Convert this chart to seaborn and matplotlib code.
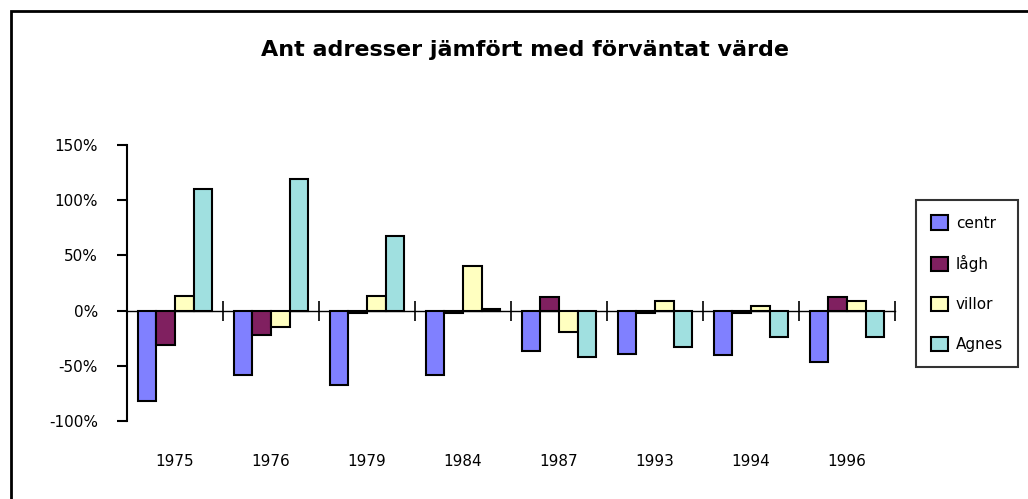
import numpy as np
import pandas as pd
import matplotlib
matplotlib.use("Agg")
import matplotlib.pyplot as plt
import seaborn as sns
from matplotlib.ticker import PercentFormatter, MultipleLocator
from matplotlib.patches import Rectangle

# data (percent vs expected value)
years = ["1975", "1976", "1979", "1984", "1987", "1993", "1994", "1996"]
centr = [-82, -58, -67, -58, -37, -39, -40, -47]
lagh = [-31, -22, -2, -2, 12, -2, -2, 12]
villor = [13, -15, 13, 40, -19, 9, 4, 9]
agnes = [110, 119, 68, 1, -42, -33, -24, -24]
series = ["centr", "lågh", "villor", "Agnes"]
colors = ["#8080FF", "#802060", "#FFFFC0", "#A0E0E0"]

df = pd.DataFrame({"year": years * 4,
                   "serie": np.repeat(series, len(years)),
                   "value": centr + lagh + villor + agnes})

sns.set_style("white")
plt.rcParams["font.family"] = ["DejaVu Sans"]
plt.rcParams["axes.unicode_minus"] = False
plt.rcParams["text.color"] = "black"
plt.rcParams["xtick.color"] = "black"
plt.rcParams["ytick.color"] = "black"

fig = plt.figure(figsize=(10.28, 4.99), dpi=100)
ax = fig.add_axes([127 / 1028, 78 / 499, 768 / 1028, 276 / 499])

sns.barplot(data=df, x="year", y="value", hue="serie", order=years,
            hue_order=series, palette=colors, saturation=1, width=0.78,
            edgecolor="black", linewidth=1.5, ax=ax)

handles, labels = ax.get_legend_handles_labels()
ax.get_legend().remove()

ax.set_xlim(-0.5, len(years) - 0.5)
ax.set_ylim(-100, 150)
ax.yaxis.set_major_locator(MultipleLocator(50))
ax.yaxis.set_major_formatter(PercentFormatter(xmax=100, decimals=0))
ax.set_xlabel("")
ax.set_ylabel("")

for s in ["top", "right", "bottom"]:
    ax.spines[s].set_visible(False)
ax.spines["left"].set_color("black")
ax.spines["left"].set_linewidth(1.5)
ax.tick_params(axis="y", direction="out", length=7, width=1.5, color="black",
               left=True, labelsize=11, pad=14)
ax.tick_params(axis="x", length=0, labelsize=11, pad=24)

# zero line with category boundary ticks
zero = (0 - ax.get_ylim()[0]) / (ax.get_ylim()[1] - ax.get_ylim()[0])
sec = ax.secondary_xaxis(zero)
sec.set_xticks(np.arange(len(years)) + 0.5, labels=[])
sec.tick_params(direction="inout", length=14, width=1.2, color="black")
sec.spines["bottom"].set_linewidth(1.0)
sec.spines["bottom"].set_color("black")
ax.set_zorder(1)

leg = fig.legend(handles, labels, loc="upper left",
                 bbox_to_anchor=(916 / 1028, 1 - 200 / 499),
                 borderaxespad=0, frameon=True, fancybox=False, fontsize=11,
                 handlelength=1.1, handleheight=1.1, labelspacing=1.6,
                 handletextpad=0.5, borderpad=1.0)
leg.get_frame().set_edgecolor("black")
leg.get_frame().set_linewidth(1.5)

fig.text(525 / 1028, 1 - 50 / 499, "Ant adresser jämfört med förväntat värde",
         ha="center", va="center", fontsize=16, fontweight="bold")

# outer chart frame
fig.patches.append(Rectangle((11 / 1028, -0.1), 1.2, 1.1 - 11 / 499,
                             transform=fig.transFigure, fill=False,
                             edgecolor="black", linewidth=2))

fig.savefig("out.png", dpi=100)
